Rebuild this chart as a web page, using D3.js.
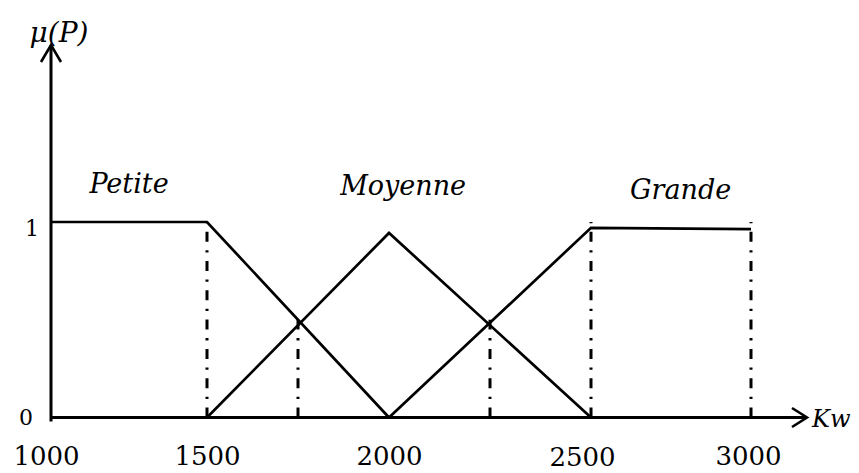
<!DOCTYPE html>
<html>
<head>
<meta charset="utf-8">
<script src="https://cdn.jsdelivr.net/npm/d3@7"></script>
<style>
  html, body { margin: 0; padding: 0; background: #fff; }
  svg { display: block; }
</style>
</head>
<body>
<svg id="chart" width="859" height="473"></svg>
<script>
// ---- data ----
const xTicks = [1000, 1500, 2000, 2500, 3000];
const yTicks = [0, 1];
const seriesNames = ["Petite", "Moyenne", "Grande"];
const petiteX = [1000, 1500, 2000];
const petiteY = [1, 1, 0];
const moyenneX = [1500, 2000, 2500];
const moyenneY = [0, 0.944, 0];
const grandeX = [2000, 2500, 3000];
const grandeY = [0, 0.97, 0.964];
const guideX = [1500, 1750, 2250, 2500, 3000];
const guideTop = [1, 0.5, 0.5, 1, 1];
const labelX = [1250, 2035, 2780];
const labelY = [1.15, 1.14, 1.12];
const xTitle = "Kw";
const yTitle = "μ(P)";

// ---- layout ----
const svg = d3.select("#chart");
const x = d3.scaleLinear().domain(xTicks).range([51, 207, 389, 591, 751]);
const y = d3.scaleLinear().domain([0, 1]).range([417.5, 222]);
const xAxisEnd = 807, yAxisTop = 45;

const line = d3.line().x(d => x(d[0])).y(d => y(d[1]));
const series = [
  d3.zip(petiteX, petiteY),
  d3.zip(moyenneX, moyenneY),
  d3.zip(grandeX, grandeY)
];

// guide (dash-dot) lines, drawn from bottom upward
svg.append("g").selectAll("line").data(d3.zip(guideX, guideTop)).join("line")
  .attr("x1", d => x(d[0])).attr("x2", d => x(d[0]))
  .attr("y1", y(0)).attr("y2", d => y(d[1]))
  .attr("stroke", "#000").attr("stroke-width", 3)
  .attr("stroke-dasharray", "10,8.5,2.3,8.5");

// series lines
svg.append("g").selectAll("path").data(series).join("path")
  .attr("d", line).attr("fill", "none")
  .attr("stroke", "#000").attr("stroke-width", 2.7)
  .attr("stroke-linejoin", "miter");

// axes lines with arrows
const ax = svg.append("g").attr("stroke", "#000").attr("fill", "none").attr("stroke-width", 3);
ax.append("line").attr("x1", x(1000)).attr("x2", xAxisEnd).attr("y1", y(0)).attr("y2", y(0));
ax.append("line").attr("x1", x(1000)).attr("x2", x(1000)).attr("y1", y(0) + 4).attr("y2", yAxisTop);
ax.append("path").attr("stroke-width", 2.6)
  .attr("d", `M${xAxisEnd - 15},${y(0) - 9.5}L${xAxisEnd},${y(0)}L${xAxisEnd - 15},${y(0) + 9.5}`);
ax.append("path").attr("stroke-width", 2.6)
  .attr("d", `M${x(1000) - 10},${yAxisTop + 17}L${x(1000)},${yAxisTop}L${x(1000) + 10},${yAxisTop + 17}`);

// x tick labels via d3 axis
const gx = svg.append("g").attr("transform", `translate(0,${y(0)})`)
  .call(d3.axisBottom(x).tickValues(xTicks).tickFormat(d3.format("d")).tickSize(0).tickPadding(29));
gx.select(".domain").remove();
gx.selectAll("text").attr("font-family", "'DejaVu Serif', serif").attr("font-size", 26)
  .attr("fill", "#000").attr("dx", d => d === 1000 ? -5 : d === 2500 ? -9 : d === 3000 ? -3 : 0)
  .attr("dy", d => d === 2500 ? "0.76em" : "0.71em");

// y tick labels
const gy = svg.append("g").attr("transform", `translate(${x(1000)},0)`)
  .call(d3.axisLeft(y).tickValues(yTicks).tickFormat(d3.format("d")).tickSize(0).tickPadding(12));
gy.select(".domain").remove();
gy.selectAll("text").attr("font-family", "'DejaVu Serif', serif").attr("font-size", 22)
  .attr("fill", "#000").attr("dy", d => d === 1 ? "0.62em" : "0.32em")
  .attr("dx", d => d === 0 ? -6 : 0);

// series names
svg.append("g").selectAll("text").data(seriesNames).join("text")
  .attr("x", (d, i) => x(labelX[i])).attr("y", (d, i) => y(labelY[i]))
  .attr("text-anchor", "middle")
  .attr("font-family", "'DejaVu Serif', serif").attr("font-style", "italic").attr("font-size", 27)
  .text(d => d);

// axis titles
svg.append("text").attr("x", xAxisEnd + 5).attr("y", y(0) + 9)
  .attr("font-family", "'DejaVu Serif', serif").attr("font-style", "italic").attr("font-size", 24)
  .text(xTitle);
svg.append("text").attr("x", x(1000) + 8).attr("y", yAxisTop - 3).attr("text-anchor", "middle")
  .attr("font-family", "'DejaVu Serif', serif").attr("font-style", "italic").attr("font-size", 28)
  .text(yTitle);
</script>
</body>
</html>
